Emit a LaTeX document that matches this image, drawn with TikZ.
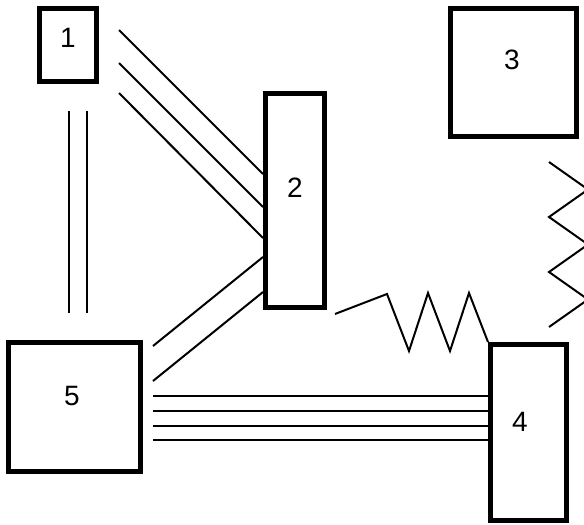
\documentclass[tikz,border=0pt]{standalone}
\usepackage{fontspec}
\setmainfont{Liberation Sans}
\begin{document}
\begin{tikzpicture}[x=1pt,y=-1pt,
  box/.style={draw, rectangle, line width=5pt, inner sep=0pt},
  num/.style={inner sep=0pt, font=\fontsize{28}{32}\selectfont},
  wire/.style={line width=2pt}]
\useasboundingbox (0,0) rectangle (584,525);
\clip (0,0) rectangle (584,525);

% blocks
\node[box, minimum width=57pt,  minimum height=73pt]  (b1) at (68,45)      {};
\node[box, minimum width=59pt,  minimum height=214pt] (b2) at (295,200.5)  {};
\node[box, minimum width=126pt, minimum height=128pt] (b3) at (513.5,72.5) {};
\node[box, minimum width=76pt,  minimum height=176pt] (b4) at (528.5,432.5){};
\node[box, minimum width=132pt, minimum height=129pt] (b5) at (74.5,407)   {};

% block numbers
\node[num] (t1) at (68,38)   {1};
\node[num] (t2) at (295,188) {2};
\node[num] (t3) at (512,60)  {3};
\node[num] (t4) at (520,422) {4};
\node[num] (t5) at (72,396)  {5};

% link 1--5: two parallel bars
\coordinate (u1) at (69,111);  \coordinate (v1) at (69,313);
\coordinate (u2) at (87,111);  \coordinate (v2) at (87,313);
\draw[wire] (u1) -- (v1);
\draw[wire] (u2) -- (v2);

% link 1--2: three parallel bars
\coordinate (p1) at (119,30);  \coordinate (q1) at (263,174);
\coordinate (p2) at (119,63);  \coordinate (q2) at (263,207);
\coordinate (p3) at (119,93);  \coordinate (q3) at (263,238);
\draw[wire] (p1) -- (q1);
\draw[wire] (p2) -- (q2);
\draw[wire] (p3) -- (q3);

% link 2--5: two parallel bars
\coordinate (m1) at (263,257); \coordinate (n1) at (153,346);
\coordinate (m2) at (263,292); \coordinate (n2) at (153,381);
\draw[wire] (m1) -- (n1);
\draw[wire] (m2) -- (n2);

% link 5--4: four parallel bars
\foreach \yy/\k in {396/1,411/2,426/3,440/4}{
  \coordinate (h\k) at (153,\yy);
  \draw[wire] (h\k) -- (h\k -| b4.west);
}

% link 2--4: spring
\coordinate (s0) at (335,314);
\draw[wire] (s0) -- (387,294) -- (409,351) -- (428,293) -- (450,351)
  -- (469,293) -- (b4.north west);

% link 3--4: spring
\coordinate (z0) at (549,162);
\coordinate (z1) at (549,327);
\draw[wire] (z0) -- (588,189.5) -- (549,217) -- (588,244.5) -- (549,272)
  -- (588,299.5) -- (z1);
\end{tikzpicture}
\end{document}
